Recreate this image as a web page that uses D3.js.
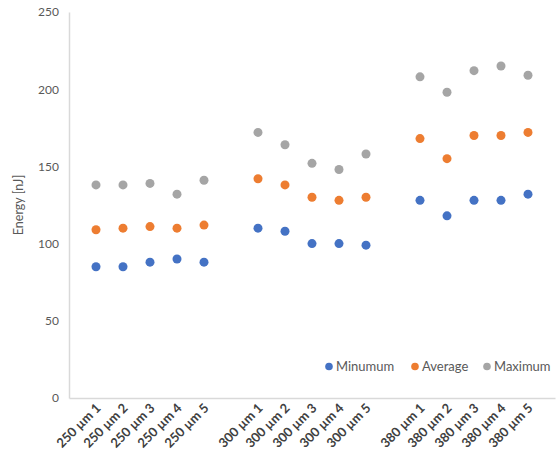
<!DOCTYPE html>
<html>
<head>
<meta charset="utf-8">
<script src="https://cdn.jsdelivr.net/npm/d3@7"></script>
<style>
  html, body { margin: 0; padding: 0; background: #fff; }
  svg { display: block; font-family: Lato, "Open Sans", sans-serif; }
</style>
</head>
<body>
<svg id="chart" width="557" height="456"></svg>
<script>
// Sample names, placed on a numeric x axis with a gap between each hole size
const categories = [
  "250 µm 1", "250 µm 2", "250 µm 3", "250 µm 4", "250 µm 5",
  "300 µm 1", "300 µm 2", "300 µm 3", "300 µm 4", "300 µm 5",
  "380 µm 1", "380 µm 2", "380 µm 3", "380 µm 4", "380 µm 5"
];
const xPositions = [1, 2, 3, 4, 5, 7, 8, 9, 10, 11, 13, 14, 15, 16, 17];

// Pulse energies in nJ
const minimum = [85, 85, 88, 90, 88, 110, 108, 100, 100, 99, 128, 118, 128, 128, 132];
const average = [109, 110, 111, 110, 112, 142, 138, 130, 128, 130, 168, 155, 170, 170, 172];
const maximum = [138, 138, 139, 132, 141, 172, 164, 152, 148, 158, 208, 198, 212, 215, 209];

const yTicks = [0, 50, 100, 150, 200, 250];
const seriesNames = ["Minumum", "Average", "Maximum"];
const seriesColors = ["#4472C4", "#ED7D31", "#A5A5A5"];

const svg = d3.select("#chart");
const plot = { left: 69, right: 555, top: 12, bottom: 398 };

const x = d3.scaleLinear().domain([0, 18]).range([plot.left, plot.right]);
const y = d3.scaleLinear().domain([0, 250]).range([plot.bottom, plot.top]);

// Y axis: light line with value labels
const yAxis = svg.append("g")
  .attr("transform", `translate(${plot.left},0)`)
  .call(d3.axisLeft(y).tickValues(yTicks).tickSize(0).tickPadding(10));
yAxis.select(".domain").attr("stroke", "#D9D9D9").attr("stroke-width", 1.5);
yAxis.selectAll("text").attr("fill", "#595959").style("font-size", "12px")
  .style("font-family", "Lato, 'Open Sans', sans-serif");

// X axis: rotated sample labels
const xAxis = svg.append("g")
  .attr("transform", `translate(0,${plot.bottom})`)
  .call(d3.axisBottom(x).tickValues(xPositions)
    .tickFormat((d, i) => categories[i]).tickSize(0));
xAxis.select(".domain").attr("stroke", "#D9D9D9").attr("stroke-width", 1.5);
xAxis.selectAll("text")
  .attr("fill", "#404040")
  .style("font-size", "13px")
  .style("font-weight", "bold")
  .style("font-family", "Lato, 'Open Sans', sans-serif")
  .attr("text-anchor", "end")
  .attr("dy", null)
  .attr("y", 0)
  .attr("transform", "translate(5,11) rotate(-45)");

// Axis title
svg.append("text")
  .attr("transform", `translate(23,205) rotate(-90)`)
  .attr("text-anchor", "middle")
  .attr("fill", "#595959")
  .style("font-size", "12.5px")
  .text("Energy [nJ]");

// Scatter points for each series
const series = [minimum, average, maximum];
series.forEach((vals, s) => {
  svg.append("g").selectAll("circle")
    .data(vals)
    .join("circle")
    .attr("cx", (d, i) => x(xPositions[i]))
    .attr("cy", d => y(d))
    .attr("r", 4.5)
    .attr("fill", seriesColors[s]);
});

// Legend
const legendX = [329, 415, 487];
const legend = svg.append("g");
seriesNames.forEach((name, i) => {
  legend.append("circle")
    .attr("cx", legendX[i]).attr("cy", 366.5).attr("r", 3.8)
    .attr("fill", seriesColors[i]);
  legend.append("text")
    .attr("x", legendX[i] + 7).attr("y", 371)
    .attr("fill", "#595959")
    .style("font-size", "13px")
    .text(name);
});
</script>
</body>
</html>
